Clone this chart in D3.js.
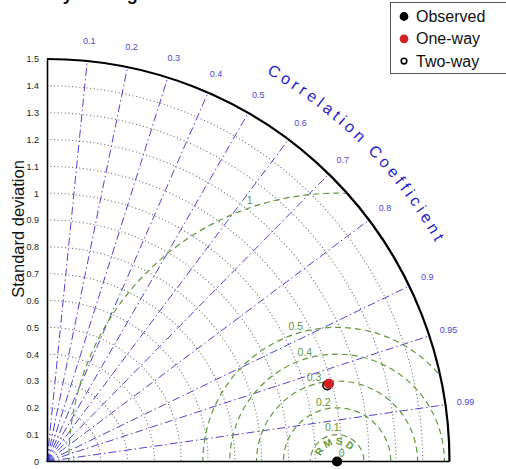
<!DOCTYPE html>
<html>
<head>
<meta charset="utf-8">
<script src="https://cdn.jsdelivr.net/npm/d3@7"></script>
<style>
body{margin:0;background:#fff;}
svg{display:block;font-family:"Liberation Sans",Arial,Helvetica,sans-serif;}
</style>
</head>
<body>
<svg id="chart"></svg>
<script>
//Globals
var width = 506;
var height = 469;
var originX = 47;
var originY = 461.5;
var maxStd = 1.5;
var plotRadius = 402.5;

// data
var models = ["Observed", "One-way", "Two-way"];
var stdValues = [1.081, 1.090, 1.082];
var corrValues = [1, 0.964, 0.965];

var corrTicks = [0.1, 0.2, 0.3, 0.4, 0.5, 0.6, 0.7, 0.8, 0.9, 0.95, 0.99];
var stdTicks = [0, 0.1, 0.2, 0.3, 0.4, 0.5, 0.6, 0.7, 0.8, 0.9, 1, 1.1, 1.2, 1.3, 1.4, 1.5];
var stdArcs = [0.1, 0.2, 0.3, 0.4, 0.5, 0.6, 0.7, 0.8, 0.9, 1, 1.1, 1.2, 1.3, 1.4];
var rmsCircles = [0.1, 0.2, 0.3, 0.4, 0.5, 1];
var rmsLabels = [0, 0.1, 0.2, 0.3, 0.4, 0.5, 1];

var corrColor = "#4b45d6";
var rmsColor = "#5f9a3a";

var svg = d3.select("#chart").attr("width", width).attr("height", height);

var rScale = d3.scaleLinear().domain([0, maxStd]).range([0, plotRadius]);
var yScale = d3.scaleLinear().domain([0, maxStd]).range([originY, originY - plotRadius]);

function polar(s, c) {
    var a = Math.acos(c);
    return [originX + rScale(s) * Math.cos(a), originY - rScale(s) * Math.sin(a)];
}

function quarterArc(s) {
    var p = d3.path();
    var R = rScale(s);
    p.moveTo(originX, originY - R);
    p.arc(originX, originY, R, -Math.PI / 2, 0);
    return p.toString();
}

// title, mostly cut off at the top
svg.append("text")
    .text("Taylor diagram")
    .attr("x", 43)
    .attr("y", -0.5)
    .style("font-size", "18px")
    .style("font-weight", "bold")
    .style("fill", "#111");

// clip to quarter disk
var clip = d3.path();
clip.moveTo(originX, originY);
clip.lineTo(originX, originY - plotRadius);
clip.arc(originX, originY, plotRadius, -Math.PI / 2, 0);
clip.closePath();
svg.append("clipPath").attr("id", "quarter")
    .append("path").attr("d", clip.toString());

// std dev dotted arcs
svg.append("g").selectAll("path")
    .data(stdArcs)
    .enter()
    .append("path")
    .attr("d", function (d) { return quarterArc(d); })
    .attr("fill", "none")
    .attr("stroke", "#6a6a6a")
    .attr("stroke-width", 1.1)
    .attr("stroke-dasharray", "1,2.6");

// correlation radial lines
svg.append("g").selectAll("line")
    .data(corrTicks)
    .enter()
    .append("line")
    .attr("x1", originX)
    .attr("y1", originY)
    .attr("x2", function (d) { return polar(maxStd, d)[0]; })
    .attr("y2", function (d) { return polar(maxStd, d)[1]; })
    .attr("stroke", corrColor)
    .attr("stroke-width", 1)
    .attr("stroke-dasharray", "8,3,1.5,3");

// RMSD circles around the observed point
var obsX = originX + rScale(stdValues[0]);
svg.append("g").attr("clip-path", "url(#quarter)")
    .selectAll("circle")
    .data(rmsCircles)
    .enter()
    .append("circle")
    .attr("cx", obsX)
    .attr("cy", originY)
    .attr("r", function (d) { return rScale(d); })
    .attr("fill", "none")
    .attr("stroke", rmsColor)
    .attr("stroke-width", 1.2)
    .attr("stroke-dasharray", "6,4");

// RMSD labels
var labAng = 110 * Math.PI / 180;
svg.append("g").selectAll("text")
    .data(rmsLabels)
    .enter()
    .append("text")
    .text(function (d) { return d3.format("")(d); })
    .attr("x", function (d) { return obsX + 4.5 + rScale(d) * Math.cos(labAng); })
    .attr("y", function (d) { return originY - 9 - rScale(d) * Math.sin(labAng); })
    .attr("text-anchor", "middle")
    .attr("dominant-baseline", "central")
    .style("font-size", "10.5px")
    .style("fill", rmsColor);

// curved RMSD word
var rmsdWord = ["R", "M", "S", "D"];
var rmsdAngles = [150, 117, 84, 52];
svg.append("g").selectAll("text")
    .data(rmsdWord)
    .enter()
    .append("text")
    .text(function (d) { return d; })
    .attr("transform", function (d, i) {
        var a = rmsdAngles[i] * Math.PI / 180;
        var x = obsX + 20.5 * Math.cos(a);
        var y = originY - 20.5 * Math.sin(a);
        return "translate(" + x + "," + y + ") rotate(" + (90 - rmsdAngles[i]) + ")";
    })
    .attr("text-anchor", "middle")
    .attr("dominant-baseline", "central")
    .style("font-size", "10px")
    .style("font-weight", "bold")
    .style("fill", rmsColor);

// axes
var yAxis = d3.axisLeft(yScale)
    .tickValues(stdTicks)
    .tickSize(0)
    .tickPadding(8)
    .tickFormat(d3.format(""));
var yG = svg.append("g")
    .attr("transform", "translate(" + originX + ",0)")
    .call(yAxis);
yG.select(".domain").attr("stroke", "#000").attr("stroke-width", 1.6);
yG.selectAll("text").style("font-size", "9px").style("fill", "#222")
    .style("font-family", "'Liberation Sans',Arial,sans-serif");

svg.append("line")
    .attr("x1", originX)
    .attr("y1", originY)
    .attr("x2", originX + rScale(maxStd))
    .attr("y2", originY)
    .attr("stroke", "#000")
    .attr("stroke-width", 1.6);

svg.append("path")
    .attr("d", quarterArc(maxStd))
    .attr("fill", "none")
    .attr("stroke", "#000")
    .attr("stroke-width", 2.2);

// y label
svg.append("text")
    .text("Standard deviation")
    .attr("transform", "translate(18," + 229 + ") rotate(-90)")
    .attr("text-anchor", "middle")
    .attr("dominant-baseline", "central")
    .style("font-size", "16.5px")
    .style("fill", "#111");

// correlation labels
svg.append("g").selectAll("text")
    .data(corrTicks)
    .enter()
    .append("text")
    .text(function (d) { return d; })
    .attr("x", function (d) { return polar(maxStd * 1.05, d)[0]; })
    .attr("y", function (d) { return polar(maxStd * 1.05, d)[1]; })
    .attr("text-anchor", "middle")
    .attr("dominant-baseline", "central")
    .style("font-size", "9px")
    .style("fill", corrColor);

// Correlation Coefficient, one letter at a time along the arc
var arcTitle = "Correlation Coefficient";
var arcR = 446;
var spacing = 3.8;
var ctx = document.createElement("canvas").getContext("2d");
ctx.font = "16px 'Liberation Sans'";
var chars = arcTitle.split("");
var widths = chars.map(function (c) { return ctx.measureText(c).width; });
var total = d3.sum(widths) + spacing * (chars.length - 1);
var pos = 0;
var letters = chars.map(function (c, i) {
    var mid = pos + widths[i] / 2;
    pos += widths[i] + spacing;
    var ang = 45 + (total / 2 - mid) / arcR * 180 / Math.PI;
    return {c: c, ang: ang};
}).filter(function (d) { return d.c != " "; });
svg.append("g").selectAll("text")
    .data(letters)
    .enter()
    .append("text")
    .text(function (d) { return d.c; })
    .attr("transform", function (d) {
        var a = d.ang * Math.PI / 180;
        return "translate(" + (originX + arcR * Math.cos(a)) + "," + (originY - arcR * Math.sin(a)) +
            ") rotate(" + (90 - d.ang) + ")";
    })
    .attr("text-anchor", "middle")
    .style("font-size", "16px")
    .style("fill", "#2323c8");

// points
var markerFill = ["#000", "#d42020", "none"];
var markerStroke = ["#000", "#d42020", "#000"];
var order = [0, 2, 1];
svg.append("g").selectAll("circle")
    .data(order)
    .enter()
    .append("circle")
    .attr("cx", function (i) { return polar(stdValues[i], corrValues[i])[0]; })
    .attr("cy", function (i) { return polar(stdValues[i], corrValues[i])[1]; })
    .attr("r", 4.3)
    .attr("fill", function (i) { return markerFill[i]; })
    .attr("stroke", function (i) { return markerStroke[i]; })
    .attr("stroke-width", 1.6);

// legend
var legend = svg.append("g").attr("transform", "translate(390.5,2.5)");
legend.append("rect")
    .attr("width", 130)
    .attr("height", 71)
    .attr("fill", "#fff")
    .attr("stroke", "#555")
    .attr("stroke-width", 1);
var rows = legend.selectAll(".row")
    .data(models)
    .enter()
    .append("g")
    .attr("class", "row")
    .attr("transform", function (d, i) { return "translate(0," + (14 + i * 22.3) + ")"; });
rows.append("circle")
    .attr("cx", 13.5)
    .attr("cy", 0)
    .attr("r", function (d, i) { return i == 2 ? 2.8 : 3.6; })
    .attr("fill", function (d, i) { return markerFill[i]; })
    .attr("stroke", function (d, i) { return markerStroke[i]; })
    .attr("stroke-width", 1.6);
rows.append("text")
    .text(function (d) { return d; })
    .attr("x", 25.5)
    .attr("y", 0)
    .attr("dominant-baseline", "central")
    .style("font-size", "16px")
    .style("fill", "#111");
</script>
</body>
</html>
